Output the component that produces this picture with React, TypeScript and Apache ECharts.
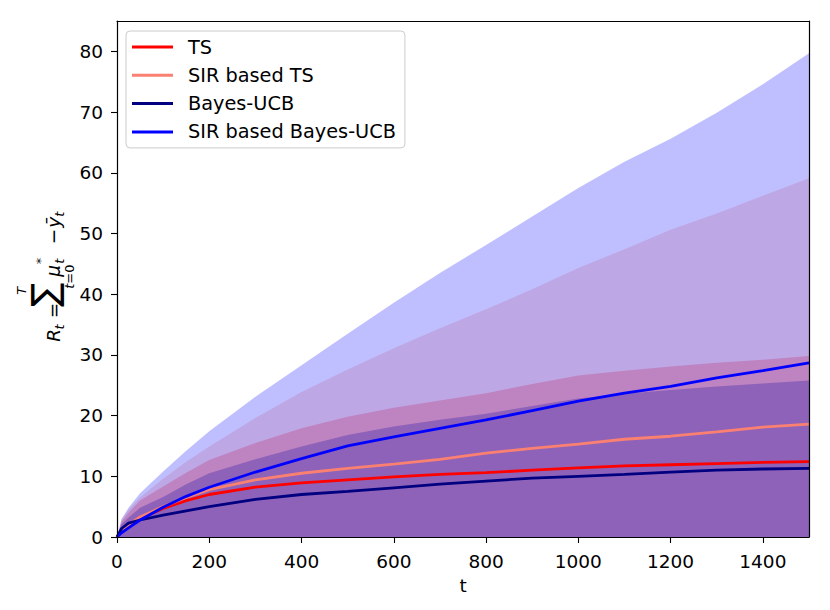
import React, { useEffect, useRef } from "react";
import * as echarts from "echarts";

// time steps
const T = [0, 10, 25, 50, 100, 150, 200, 300, 400, 500, 600, 700, 800, 900, 1000, 1100, 1200, 1300, 1400, 1500];

// mean cumulative regret per algorithm
const TS_MEAN = [0, 0.9, 1.8, 3.0, 4.7, 6.0, 7.0, 8.2, 8.9, 9.4, 9.9, 10.3, 10.6, 11.0, 11.4, 11.7, 11.9, 12.1, 12.3, 12.4];
const SIR_TS_MEAN = [0, 1.0, 2.0, 3.3, 5.0, 6.5, 7.8, 9.4, 10.5, 11.3, 12.0, 12.8, 13.8, 14.6, 15.3, 16.1, 16.6, 17.3, 18.1, 18.6];
const BUCB_MEAN = [0, 1.4, 2.3, 2.8, 3.6, 4.3, 5.0, 6.2, 7.0, 7.5, 8.1, 8.7, 9.2, 9.7, 10.0, 10.3, 10.7, 11.0, 11.2, 11.3];
const SIR_BUCB_MEAN = [0, 0.7, 1.5, 2.8, 4.9, 6.7, 8.2, 10.7, 12.9, 15.0, 16.5, 17.9, 19.3, 20.8, 22.4, 23.7, 24.8, 26.2, 27.4, 28.7];

// upper edge of each shaded band (lower edge lies below 0)
const TS_UPPER = [0, 2.5, 4.0, 6.0, 8.3, 10.6, 12.7, 15.5, 17.9, 19.8, 21.3, 22.5, 23.7, 25.2, 26.6, 27.4, 28.1, 28.7, 29.2, 29.8];
const SIR_TS_UPPER = [0, 2.8, 4.5, 6.5, 9.6, 12.4, 14.9, 19.6, 23.9, 27.6, 31.1, 34.4, 37.5, 40.8, 44.3, 47.4, 50.6, 53.3, 56.2, 59.1];
const BUCB_UPPER = [0, 2.1, 3.2, 4.8, 6.6, 8.7, 10.5, 12.8, 14.9, 16.8, 18.2, 19.3, 20.3, 21.6, 22.8, 23.6, 24.2, 24.8, 25.3, 25.8];
const SIR_BUCB_UPPER = [0, 3.0, 4.8, 7.2, 10.8, 14.2, 17.4, 23.1, 28.3, 33.5, 38.6, 43.5, 48.1, 52.8, 57.5, 61.8, 65.6, 69.9, 74.6, 79.7];

const NAMES = ["TS", "SIR based TS", "Bayes-UCB", "SIR based Bayes-UCB"];
const COLORS = ["#ff0000", "#fa8072", "#000080", "#0000ff"];
const MEANS = [TS_MEAN, SIR_TS_MEAN, BUCB_MEAN, SIR_BUCB_MEAN];
const UPPERS = [TS_UPPER, SIR_TS_UPPER, BUCB_UPPER, SIR_BUCB_UPPER];

const X_TICKS = [0, 200, 400, 600, 800, 1000, 1200, 1400];
const Y_TICKS = [0, 10, 20, 30, 40, 50, 60, 70, 80];

const FONT = "DejaVu Sans";

const pairs = (ys: number[]) => T.map((t, i) => [t, ys[i]]);

function mk(text: string, x: number, base: number, fs: number, italic: boolean, align = "left") {
  return {
    type: "text",
    x,
    y: base - 0.346 * fs,
    style: {
      text,
      font: `${italic ? "italic " : ""}${fs}px "${FONT}"`,
      fill: "#000",
      align,
      verticalAlign: "middle",
    },
  };
}

export default function App() {
  const ref = useRef<HTMLDivElement>(null);
  useEffect(() => {
    if (!ref.current) return;
    const chart = echarts.init(ref.current, undefined, { renderer: "svg" });
    const axisLine = { show: true, onZero: false, lineStyle: { color: "#000", width: 1.2 } };
    const bands = UPPERS.map((u, i) => ({
      type: "line",
      name: NAMES[i] + " band",
      data: pairs(u),
      symbol: "none",
      showSymbol: false,
      silent: true,
      color: COLORS[i],
      lineStyle: { width: 0, opacity: 0 },
      areaStyle: { color: COLORS[i], opacity: 0.25 },
    }));
    const lines = MEANS.map((m, i) => ({
      type: "line",
      name: NAMES[i],
      data: pairs(m),
      symbol: "none",
      showSymbol: false,
      color: COLORS[i],
      lineStyle: { width: 2.8, color: COLORS[i] },
    }));
    const option = {
      animation: false,
      grid: { left: 117, right: 21, top: 21, bottom: 73 },
      legend: {
        data: NAMES,
        orient: "vertical",
        left: 126,
        top: 31,
        icon: "rect",
        itemWidth: 41,
        itemHeight: 3,
        itemGap: 8.3,
        padding: [6, 9, 6, 6],
        backgroundColor: "rgba(255,255,255,0.8)",
        borderColor: "#cccccc",
        borderWidth: 1,
        borderRadius: 4,
        textStyle: { fontSize: 19.3, fontFamily: FONT, color: "#000", lineHeight: 20, padding: [0, 0, 0, 10] },
      },
      xAxis: [
        {
          type: "value",
          min: 0,
          max: 1500,
          position: "bottom",
          z: 10,
          axisLine,
          axisTick: { show: true, length: 6, customValues: X_TICKS, lineStyle: { color: "#000", width: 1.1 } },
          axisLabel: {
            customValues: X_TICKS,
            formatter: (v: number) => String(v),
            fontSize: 18.5,
            fontFamily: FONT,
            color: "#000",
            margin: 15,
          },
          splitLine: { show: false },
          name: "t",
          nameLocation: "middle",
          nameGap: 38,
          nameTextStyle: { fontSize: 18.5, fontFamily: FONT, color: "#000" },
        },
        {
          type: "value",
          min: 0,
          max: 1500,
          position: "top",
          z: 10,
          axisLine,
          axisTick: { show: false },
          axisLabel: { show: false },
          splitLine: { show: false },
        },
      ],
      yAxis: [
        {
          type: "value",
          min: 0,
          max: 85,
          position: "left",
          z: 10,
          axisLine,
          axisTick: { show: true, length: 6, customValues: Y_TICKS, lineStyle: { color: "#000", width: 1.1 } },
          axisLabel: { customValues: Y_TICKS, fontSize: 18.5, fontFamily: FONT, color: "#000", margin: 14 },
          splitLine: { show: false },
        },
        {
          type: "value",
          min: 0,
          max: 85,
          position: "right",
          z: 10,
          axisLine,
          axisTick: { show: false },
          axisLabel: { show: false },
          splitLine: { show: false },
        },
      ],
      graphic: [
        {
          type: "group",
          x: 60,
          y: 341.7,
          rotation: Math.PI / 2,
          children: [
            mk("R", 0, 0, 18.5, true),
            mk("t", 12.3, 3.5, 13, true),
            mk("=", 23.5, 0, 18.5, false),
            mk("\u2211", 35, -3, 36, false),
            mk("T", 51, -34, 13, true, "center"),
            mk("t", 53, 13.5, 13, true),
            mk("=0", 58, 13.5, 13, false),
            mk("\u03BC", 65, 0, 18.5, true),
            mk("*", 77.5, -15, 13, false),
            mk("t", 78, 3.5, 13, true),
            mk("\u2212", 97.5, 0, 18.5, false),
            mk("\u0233", 114, 0, 18.5, true),
            mk("t", 125, 3.5, 13, true),
          ],
        },
      ],
      series: [...bands, ...lines],
    };
    chart.setOption(option as any);
    return () => chart.dispose();
  }, []);
  return (
    <div
      ref={ref}
      style={{ position: "fixed", left: 0, top: 0, width: 830, height: 610, background: "#fff" }}
    />
  );
}
